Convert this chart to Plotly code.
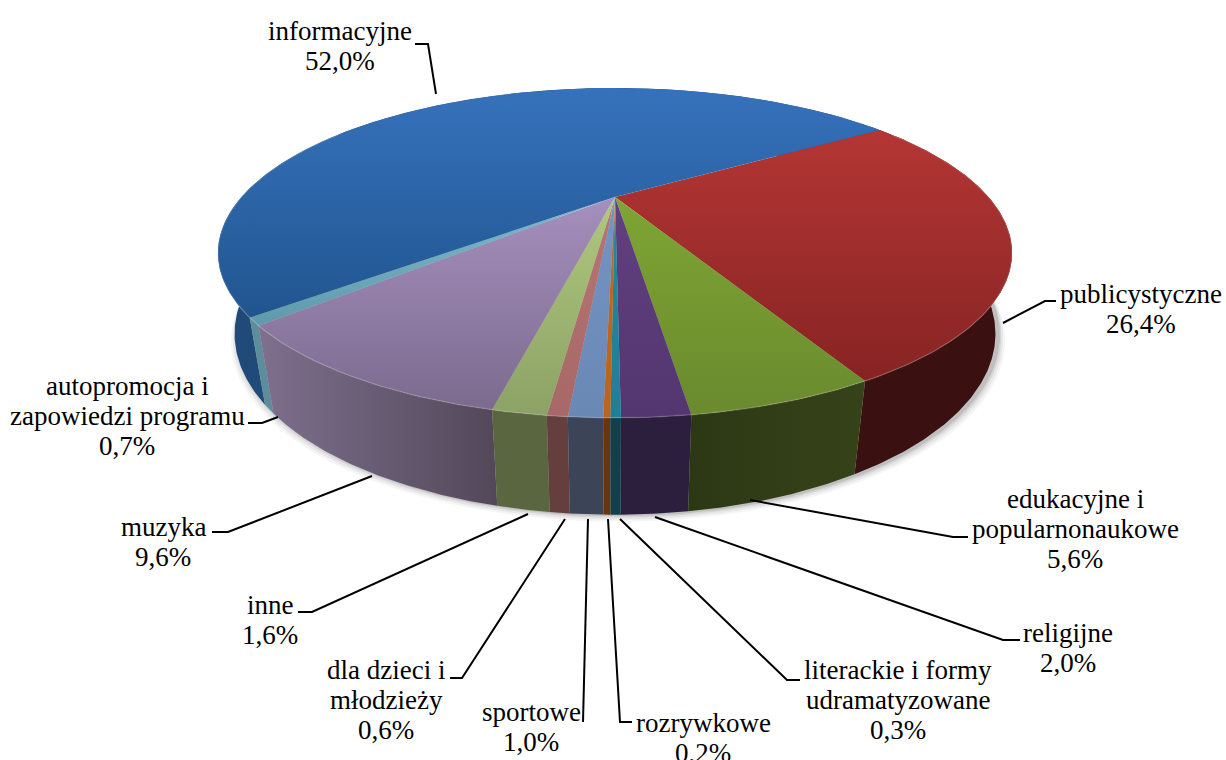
import numpy as np
import plotly.graph_objects as go

# ---- data ----
categories = ["publicystyczne", "edukacyjne i<br>popularnonaukowe", "religijne",
              "literackie i formy<br>udramatyzowane", "rozrywkowe", "sportowe",
              "dla dzieci i<br>młodzieży", "inne", "muzyka",
              "autopromocja i<br>zapowiedzi programu", "informacyjne"]
values = [26.4, 5.6, 2.0, 0.3, 0.2, 1.0, 0.6, 1.6, 9.6, 0.7, 52.0]

# ---- styles ----
top_colors = [("#B43634", "#862423"), ("#7FA534", "#6A8A2E"), ("#61407F", "#533670"),
              ("#23879E", "#1F7F96"), ("#C06A1E", "#BA651B"), ("#7594C2", "#6A88B4"),
              ("#B87474", "#A86868"), ("#B0C87E", "#8CA266"), ("#A590BE", "#7C6A8E"),
              ("#7CBACD", "#5F9AAB"), ("#3672BC", "#20558F")]
wall_colors = [("#3A1010", "#3A1010"), ("#2C3814", "#364319"), ("#2C1F3E", "#2C1F3E"),
               ("#123F4C", "#123F4C"), ("#683510", "#683510"), ("#3C4558", "#3C4558"),
               ("#653E3E", "#653E3E"), ("#5A6640", "#5A6640"), ("#7E708E", "#524859"),
               ("#5D8C9A", "#5D8C9A"), ("#1F4A78", "#265486")]
label_x = [1141, 1075, 1068, 898, 703, 531, 386, 270, 163, 127, 340]
label_y = [294, 499, 633, 670, 723, 712, 670, 605, 527, 386, 31]
LINE = 30
leaders = [[(1056, 301), (1045, 301), (1003, 323)],
           [(968, 537), (953, 537), (750, 500)],
           [(1020, 640), (1003, 640), (655, 517)],
           [(800, 680), (787, 680), (620, 519)],
           [(632, 722), (620, 722), (608, 519)],
           [(583, 722), (583, 722), (588, 519)],
           [(450, 678), (462, 678), (565, 519)],
           [(298, 612), (312, 612), (528, 514)],
           [(212, 532), (228, 532), (372, 476)],
           [(248, 423), (262, 423), (278, 417)],
           [(415, 44), (428, 44), (436, 94)]]

# ---- projection of the tilted disc ----
CX, CY = 615.0, 197.0
C, A, B = -0.339, 146.0, 373.6
DEPTH, XS = 64.0, 0.958
START = 57.0


def rim(theta_deg, bottom=False):
    t = np.radians(theta_deg)
    u, v = np.sin(t), -np.cos(t)
    d = 1 + C * v
    x, y = B * u / d, A * v / d
    if bottom:
        return CX + x * XS, CY + y + DEPTH * (1 + 0.18 * (1 - abs(v))) / d
    return CX + x, CY + y


fig = go.Figure()
edges = START + np.cumsum([0] + values) * 3.6

# soft shadow
tt = np.linspace(70, 290, 200)
for grow, alpha in [(7, 0.05), (5, 0.07), (3, 0.10), (1.5, 0.14)]:
    sx, sy = rim(tt, True)
    fig.add_trace(go.Scatter(x=CX + (sx - CX) * (1 + grow / 400) + 3, y=sy + grow, mode="lines", fill="toself",
                             fillcolor=f"rgba(60,60,60,{alpha})", line=dict(width=0), hoverinfo="skip"))

# walls, back to front
mids = [(edges[i] + edges[i + 1]) / 2 for i in range(len(values))]
order = sorted(range(len(values)), key=lambda i: -np.cos(np.radians(mids[i])))
for i in order:
    th = np.linspace(edges[i], edges[i + 1], max(4, int((edges[i + 1] - edges[i]) * 2)))
    x1, y1 = rim(th)
    x2, y2 = rim(th[::-1], True)
    xs, ys = np.r_[x1, x2], np.r_[y1, y2]
    c1, c2 = wall_colors[i]
    fig.add_trace(go.Scatter(x=xs, y=ys, mode="lines", fill="toself", line=dict(width=0),
                             fillgradient=dict(type="horizontal", colorscale=[[0, c1], [1, c2]],
                                               start=float(xs.min()), stop=float(xs.max())),
                             hoverinfo="skip"))

# top face
for i in range(len(values)):
    th = np.linspace(edges[i], edges[i + 1], max(4, int((edges[i + 1] - edges[i]) * 2)))
    x1, y1 = rim(th)
    xs, ys = np.r_[CX, x1, CX], np.r_[CY, y1, CY]
    c1, c2 = top_colors[i]
    fig.add_trace(go.Scatter(x=xs, y=ys, mode="lines", fill="toself", line=dict(width=0),
                             fillgradient=dict(type="vertical", colorscale=[[0, c1], [1, c2]],
                                               start=float(ys.min()), stop=float(ys.max())),
                             hoverinfo="skip"))

# faint highlight along the rim of the top face
rx, ry = rim(np.linspace(60, 300, 240))
fig.add_trace(go.Scatter(x=rx, y=ry, mode="lines", line=dict(color="rgba(255,255,255,0.16)", width=1.5),
                         hoverinfo="skip"))

# leader lines
for pts in leaders:
    fig.add_trace(go.Scatter(x=[p[0] for p in pts], y=[p[1] for p in pts], mode="lines",
                             line=dict(color="black", width=2), hoverinfo="skip"))

# labels, one annotation per line so that the line spacing can be set
for cat, val, lx, ly in zip(categories, values, label_x, label_y):
    lines = cat.split("<br>") + [f"{val:.1f}%".replace(".", ",")]
    for k, line in enumerate(lines):
        fig.add_annotation(x=lx, y=ly + k * LINE, xref="x", yref="y", showarrow=False,
                           xanchor="center", yanchor="middle", text=line,
                           font=dict(family="Liberation Serif", size=27, color="black"))

fig.update_layout(width=1226, height=760, margin=dict(l=0, r=0, t=0, b=0), showlegend=False,
                  paper_bgcolor="white", plot_bgcolor="white",
                  xaxis=dict(range=[0, 1226], visible=False, fixedrange=True),
                  yaxis=dict(range=[760, 0], visible=False, fixedrange=True))
fig.write_html("out.html", config={"displayModeBar": False},
               post_script="document.body.style.margin='0';document.documentElement.style.overflow='hidden';")
